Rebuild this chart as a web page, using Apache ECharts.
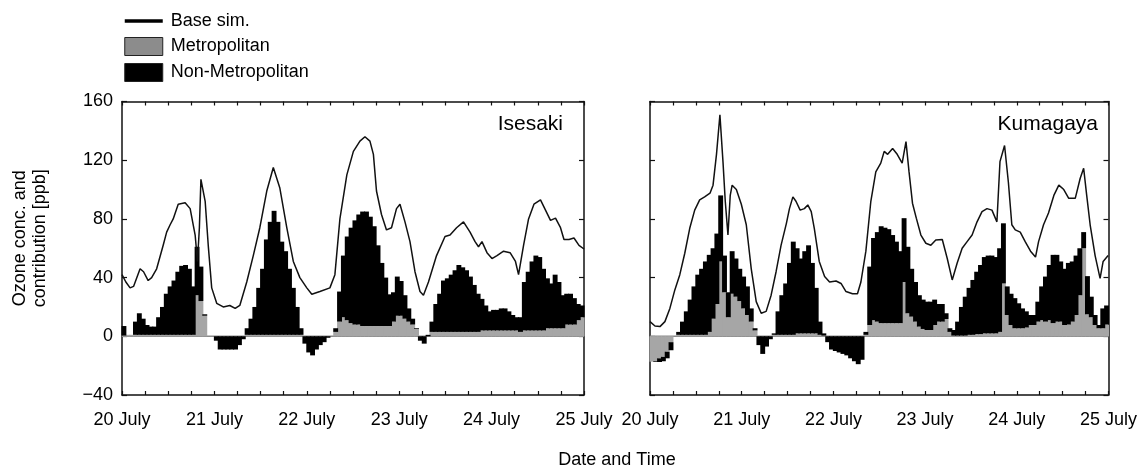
<!DOCTYPE html>
<html>
<head>
<meta charset="utf-8">
<script src="https://cdn.jsdelivr.net/npm/echarts@6/dist/echarts.min.js"></script>
<style>
  html, body { margin: 0; padding: 0; background: #fff; }
  #chart { width: 1140px; height: 468px; }
</style>
</head>
<body>
<div id="chart"></div>
<script>
// Hours since 20 July 00:00; one bar per hour, lines given as [hour, ppb] readings.
const dayLabels = ['20 July', '21 July', '22 July', '23 July', '24 July', '25 July'];
const yTicks = [-40, 0, 40, 80, 120, 160];

// Isesaki: hourly contributions [ppb]
const isesakiMetro = [
  0.5, 1, 1, 1, 1, 1, 1, 1, 1, 1, 1, 1, 1, 1, 1, 1, 1, 1, 1, 28,
  24, 14, 0, 0, 0, 0, 0, 0, 0, 0, 0, 0, 1, 1, 1, 1, 1, 1, 1, 1,
  1, 1, 1, 1, 1, 1, 1, 0, 0, 0, 0, 0, 0, 0, 0, 3, 10, 13, 11, 9,
  8, 8, 7, 7, 7, 7, 7, 7, 7, 7, 10, 14, 14, 12, 10, 8, 5, 0, 0, 0,
  3, 3, 3, 3, 3, 3, 3, 3, 3, 3, 3, 3, 3, 4, 4, 4, 4, 4, 4, 4,
  4, 4, 4, 3, 4, 4, 4, 4, 4, 4, 5.5, 5.5, 5.5, 5.5, 5.5, 8, 8, 8, 11, 13
];
const isesakiNonMetro = [
  6.5, 0, 0, 9, 14.7, 11, 6.7, 5.6, 5.6, 12, 19, 28, 33, 37, 43, 47, 47.6, 45, 33, 33,
  23.5, 1, 0, 0, -3, -9, -9, -9, -9, -9, -6, -2, 4.5, 11, 19, 32, 45, 65, 77, 84.5,
  77, 63.5, 57, 45, 32, 19, 4.5, -5, -11, -13, -9, -6, -4, -1, 0, 2.5, 20.5, 42, 57, 65,
  71, 75, 78, 78, 74.5, 68, 55, 43, 33, 21.6, 20, 26.7, 23.7, 16, 9, 4, 0.5, -3, -5, 1,
  7, 19, 26, 35, 36.5, 39, 42, 45.6, 44, 42, 37.7, 32, 26, 21.5, 17, 13, 14, 14, 15, 15,
  13, 10.5, 9, 10, 33, 40, 47, 51, 50, 42, 34, 30.5, 36.5, 31.5, 22.5, 21, 21, 18, 11, 8
];
const isesakiBase = [
  [0, 42], [1, 37], [2.1, 33], [3, 34], [4.7, 46], [5.6, 44], [6.8, 38], [7.7, 40], [9, 46], [10.7, 62],
  [11.6, 71], [12.5, 76], [13.3, 80], [14.6, 90], [16.4, 91], [17.7, 87], [19, 69], [19.6, 51], [20.1, 74], [20.5, 107],
  [21.6, 92], [22.4, 62], [23.3, 33], [24.6, 22.5], [26.3, 20], [28, 21], [29.4, 19], [30.6, 21], [32.4, 37], [34.1, 55],
  [35.8, 74], [37.6, 99], [39.3, 115], [41, 101], [42.8, 74], [44.5, 51], [46.2, 40], [48, 33], [49.3, 28.6], [51.4, 30.5],
  [54, 33], [55.3, 42], [56.6, 80], [58.4, 110], [60.1, 126], [61.8, 133], [63.1, 136], [64.4, 133], [65.3, 124], [66.1, 99],
  [67.4, 83], [68.7, 72.5], [70, 74], [71.3, 87], [72.2, 90], [73.5, 78], [74.8, 64.5], [76.1, 44], [77.4, 30.5], [78.3, 28],
  [79.6, 37], [81.7, 55], [83.9, 68], [85.2, 69], [86.9, 74], [88.7, 78], [90.4, 71], [91.7, 64.5], [92.6, 61], [93.5, 64.5],
  [94.8, 57], [96.1, 53], [97.4, 55], [99.1, 58], [100.8, 57], [102.2, 51], [103, 42], [104.3, 62], [105.6, 80], [107, 90],
  [108.7, 93], [110, 86], [111.3, 79], [112.6, 80.5], [113.9, 74], [114.8, 66], [116.1, 66], [117.4, 67], [118.7, 62], [120, 59.5]
];

// Kumagaya: hourly contributions [ppb]
const kumagayaMetro = [
  -17.3, -17, -15, -14, -10.5, -4, 0, 1, 1, 1, 1, 1, 1, 1, 1, 3, 12, 22, 51, 30,
  13, 29, 27, 24, 19, 14.5, 10, 4, 0, 0, 0, 0, 1, 1, 1, 1, 1, 1, 2, 2,
  2, 2, 2, 2, 1, 0.5, 0, 0, 0, 0, 0, 0, 0, 0, 0, 0, 1, 7.7, 11, 10,
  9, 9, 9, 9, 9, 9, 37, 15.7, 13.4, 10, 6.6, 5, 4.3, 4.3, 7.7, 10, 10, 11.8, 3, 0.5,
  0.5, 0.5, 0.5, 1, 1, 1.5, 1.5, 2, 2, 2, 2, 3, 36, 14.5, 7.7, 5.5, 5.5, 5.5, 6, 7.7,
  7.7, 10, 11, 10, 11, 9, 10, 10, 7.7, 8, 10, 14.5, 28, 60, 15, 13, 7.7, 5.5, 5.5, 8
];
const kumagayaNonMetro = [
  0, -0.5, -2.5, -3, -4.5, -5.5, 0, 2, 9, 16, 24, 33, 41, 45, 50, 52.5, 48, 48, 45, 25,
  17, 29, 26, 22, 21.7, 19.5, 9, 1.5, -6, -12, -7, -2, 1, 16, 27, 35, 49, 63.5, 58, 51,
  56, 60, 48, 31, 9, 1.5, -4, -9, -10, -11, -12, -13, -15, -17, -19, -16, 2, 39.8, 56, 61,
  66, 65, 64, 60, 55.5, 49, 43.5, 45.3, 32.6, 27, 21.4, 20, 19.3, 19.3, 17.3, 12, 12, 3.9, 2.5, 3.8,
  9.5, 19.5, 26.5, 32, 37.4, 42.5, 47.1, 52, 53, 53, 52, 57, 41, 19.5, 21.3, 20.5, 17, 13.5, 11, 6.8,
  6.8, 13.6, 23, 30.7, 37.6, 46.5, 45.5, 41, 38.3, 42, 41, 40.5, 32, 11, 26, 14, 6.8, 2.2, 13.5, 13
];
const kumagayaBase = [
  [0, 10], [1.3, 7], [2.6, 6.6], [3.9, 10], [5.2, 19], [6.5, 31.6], [7.8, 42], [9.1, 56.6], [10.4, 73.6], [11.7, 86],
  [13, 93], [14.3, 95], [15.7, 97.5], [16.5, 103], [17.4, 124], [18.3, 151], [19.1, 119], [19.7, 92], [20.4, 69], [21, 96],
  [21.5, 103], [22.6, 100], [23.9, 90], [25.2, 76], [26.5, 46], [27.8, 23.6], [29.1, 15.7], [30.4, 17], [31.7, 28], [33, 44],
  [34.3, 62], [35.7, 77], [36.5, 87], [37.4, 95], [38.2, 92], [39.3, 86], [40.4, 87], [41.3, 89.5], [42.2, 85], [43, 73.6],
  [44.3, 51], [45.7, 40.7], [47, 37], [48.7, 37.7], [50, 36], [51.3, 30.5], [53, 29], [54.3, 29], [55.2, 37], [56.5, 58],
  [57.8, 92], [59.1, 112], [60.4, 118], [61.3, 126], [62.2, 124], [63.5, 128], [64.7, 124], [66, 118], [67, 132.7], [67.8, 112],
  [68.7, 90.7], [69.7, 80.5], [70.9, 69], [72.2, 63.4], [73.5, 62], [74.8, 65.7], [76.5, 66], [77.8, 53], [79.1, 38.4], [80.4, 50],
  [81.7, 60], [83, 64.5], [84.3, 69], [85.6, 78], [86.9, 85], [88.2, 87], [89.5, 86], [90.8, 78], [91.6, 119], [92.8, 130],
  [93.8, 105], [94.7, 76], [95.6, 72.5], [96.9, 71], [98.2, 64.5], [99.6, 58], [100.9, 54], [101.7, 64.5], [103, 76], [104.3, 84],
  [105.7, 96], [107, 103], [108.3, 100], [109.6, 94], [111.3, 94], [112.6, 107.7], [113.5, 114.5], [114.3, 96], [115.2, 76], [116.5, 55],
  [117.8, 39.5], [118.6, 51], [119.9, 55]
];
const zeroLine = [[0, 0], [120, 0]];

const FONT = 'Liberation Sans, Arial, sans-serif';
const INK = '#111';
const METRO_GREY = '#a6a6a6';

// Bar items are [ppb, hour-centre] with the value dimension first, so the
// stack accumulates ppb (not hours) on the value-value cartesian.
const hourBars = arr => arr.map((v, i) => [v, i + 0.5]);

function xAxes(gridIndex) {
  const common = {
    type: 'value', gridIndex, min: 0, max: 120, interval: 6,
    splitLine: { show: false },
    axisLine: { show: true, onZero: false, lineStyle: { color: INK, width: 1.5 } },
    axisTick: { show: true, inside: true, length: 4, lineStyle: { color: INK, width: 1.2 } }
  };
  return [
    Object.assign({}, common, {
      position: 'bottom',
      axisLabel: {
        show: true, margin: 16, fontSize: 18, fontFamily: FONT, color: '#000',
        showMinLabel: true, showMaxLabel: true, hideOverlap: false,
        formatter: v => (v % 24 === 0 ? dayLabels[v / 24] : '')
      }
    }),
    Object.assign({}, common, { position: 'top', axisLabel: { show: false } })
  ];
}

function yAxes(gridIndex, withLabels) {
  const common = {
    type: 'value', gridIndex, min: yTicks[0], max: yTicks[yTicks.length - 1], interval: 40,
    splitLine: { show: false },
    axisLine: { show: true, onZero: false, lineStyle: { color: INK, width: 1.5 } },
    axisTick: { show: true, inside: true, length: 5, lineStyle: { color: INK, width: 1.2 } }
  };
  const left = Object.assign({}, common, {
    position: 'left',
    axisLabel: {
      show: withLabels, margin: 9, fontSize: 18, fontFamily: FONT, color: '#000',
      formatter: v => (v < 0 ? '\u2212' + Math.abs(v) : String(v))
    }
  });
  if (withLabels) {
    Object.assign(left, {
      name: 'Ozone conc. and\ncontribution [ppb]',
      nameLocation: 'middle',
      nameGap: 72,
      nameTextStyle: { fontSize: 18, fontFamily: FONT, color: '#000', lineHeight: 20, padding: [0, 0, 0, 20] }
    });
  }
  const right = Object.assign({}, common, { position: 'right', axisLabel: { show: false } });
  return [left, right];
}

function panelSeries(gridIndex, metro, nonMetro, base, stackId) {
  const xi = gridIndex * 2, yi = gridIndex * 2;
  // Slightly wider than one hour so neighbouring columns close up without seams.
  const barCommon = {
    type: 'bar', xAxisIndex: xi, yAxisIndex: yi, stack: stackId,
    encode: { x: 1, y: 0 }, barWidth: 4.9, z: 2
  };
  return [
    {
      type: 'line', name: 'zero', xAxisIndex: xi, yAxisIndex: yi, data: zeroLine,
      symbol: 'none', silent: true, z: 1,
      lineStyle: { color: '#8a8a8a', width: 1.5 }
    },
    Object.assign({}, barCommon, {
      name: 'Metropolitan', data: hourBars(metro), itemStyle: { color: METRO_GREY }
    }),
    Object.assign({}, barCommon, {
      name: 'Non-Metropolitan', data: hourBars(nonMetro), itemStyle: { color: '#000' }
    }),
    {
      type: 'line', name: 'Base sim.', xAxisIndex: xi, yAxisIndex: yi, data: base,
      symbol: 'none', z: 3,
      lineStyle: { color: INK, width: 1.5 },
      itemStyle: { color: INK }
    }
  ];
}

const chart = echarts.init(document.getElementById('chart'), null, { renderer: 'canvas' });
chart.setOption({
  animation: false,
  backgroundColor: '#fff',
  textStyle: { fontFamily: FONT },
  grid: [
    { left: 122, top: 101.5, width: 462, height: 293.5 },
    { left: 650, top: 101.5, width: 460, height: 293.5 }
  ],
  title: [
    { text: 'Isesaki', right: 577, top: 114, padding: 0,
      textStyle: { fontSize: 21, fontWeight: 'normal', fontFamily: FONT, color: '#000' } },
    { text: 'Kumagaya', right: 42, top: 114, padding: 0,
      textStyle: { fontSize: 21, fontWeight: 'normal', fontFamily: FONT, color: '#000' } }
  ],
  legend: {
    orient: 'vertical', left: 123, top: 12, padding: 0,
    itemWidth: 38, itemHeight: 18, itemGap: 7,
    textStyle: { fontSize: 18, fontFamily: FONT, color: '#000', padding: [0, 0, 0, 3] },
    selectedMode: false,
    data: [
      { name: 'Base sim.', itemStyle: { opacity: 0 }, lineStyle: { width: 3.5, color: '#000' } },
      { name: 'Metropolitan', icon: 'rect', itemStyle: { color: '#8c8c8c', borderColor: '#222', borderWidth: 1 } },
      { name: 'Non-Metropolitan', icon: 'rect', itemStyle: { color: '#000', borderColor: '#222', borderWidth: 1 } }
    ]
  },
  graphic: [
    { type: 'text', x: 617, y: 460,
      style: { text: 'Date and Time', fontSize: 18, fontFamily: FONT, fill: '#000', textAlign: 'center', textVerticalAlign: 'middle' } }
  ],
  xAxis: xAxes(0).concat(xAxes(1)),
  yAxis: yAxes(0, true).concat(yAxes(1, false)),
  series: panelSeries(0, isesakiMetro, isesakiNonMetro, isesakiBase, 'isesaki')
    .concat(panelSeries(1, kumagayaMetro, kumagayaNonMetro, kumagayaBase, 'kumagaya'))
});
</script>
</body>
</html>
